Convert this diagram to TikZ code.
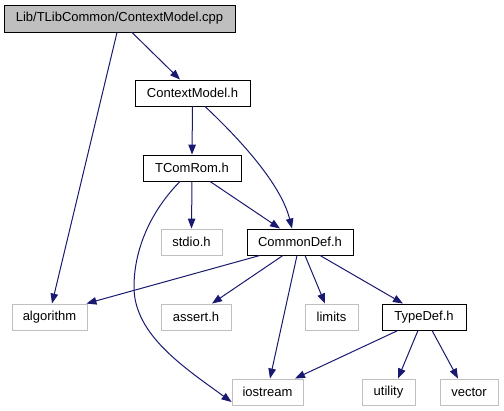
\documentclass[tikz,border=0pt]{standalone}
\usepackage{fontspec}
\setmainfont{Liberation Sans}
\usetikzlibrary{arrows.meta}
\definecolor{edgeblue}{HTML}{191970}
\definecolor{boxgray}{HTML}{BFBFBF}
\tikzset{
  fbox/.style={draw=black, line width=0.9pt, fill=white, minimum height=26pt, inner sep=0pt, font=\fontsize{13}{15}\selectfont},
  gbox/.style={draw=boxgray, line width=0.9pt, fill=white, minimum height=26pt, inner sep=0pt, font=\fontsize{13}{15}\selectfont},
  mainbox/.style={draw=black, line width=0.9pt, fill=boxgray, minimum height=27pt, inner sep=0pt, font=\fontsize{13}{15}\selectfont},
  dep/.style={draw=edgeblue, line width=1pt, -{Triangle[length=10pt,width=7.5pt,fill=edgeblue]}}
}
\begin{document}
\begin{tikzpicture}[x=1pt,y=-1pt]
\useasboundingbox (0,0) rectangle (504,411);
\node[mainbox, minimum width=231pt] (cpp) at (119.5,18.5) {Lib/TLibCommon/ContextModel.cpp};
\node[fbox, minimum width=115pt] (cmh) at (192.5,93) {ContextModel.h};
\node[fbox, minimum width=98pt] (rom) at (192,168) {TComRom.h};
\node[gbox, minimum width=61pt] (stdio) at (191.5,242) {stdio.h};
\node[fbox, minimum width=106pt] (cdef) at (300,242) {CommonDef.h};
\node[gbox, minimum width=75pt] (algo) at (49.5,317) {algorithm};
\node[gbox, minimum width=70pt] (assert) at (196,317) {assert.h};
\node[gbox, minimum width=53pt] (limits) at (331.5,317) {limits};
\node[fbox, minimum width=84pt] (tdef) at (424,317) {TypeDef.h};
\node[gbox, minimum width=71pt] (ios) at (267.5,392) {iostream};
\node[gbox, minimum width=53pt] (util) at (388.5,392) {utility};
\node[gbox, minimum width=58pt] (vec) at (469,392) {vector};

\draw[dep] ([xshift=-2.5pt]cpp.south) -- ([xshift=2.5pt]algo.north);
\draw[dep] ([xshift=12.5pt]cpp.south) -- ([xshift=-12.5pt]cmh.north);
\draw[dep] (cmh.south) -- (rom.north);
\draw[dep] ([xshift=12.5pt]cmh.south) .. controls (230,130) and (280,180) .. ([xshift=-8pt]cdef.north);
\draw[dep] (rom.south) -- (stdio.north);
\draw[dep] ([xshift=18pt]rom.south) -- ([xshift=-20pt]cdef.north);
\draw[dep] ([xshift=-12pt]rom.south) .. controls (150,212) and (134,250) .. (134,287) .. controls (134,335) and (185,368) .. ([yshift=-10pt]ios.west);
\draw[dep] ([xshift=-40pt]cdef.south) -- ([xshift=-1pt]algo.north east);
\draw[dep] ([xshift=-17pt]cdef.south) -- ([xshift=16pt]assert.north);
\draw[dep] ([xshift=-3pt]cdef.south) -- ([xshift=2.5pt]ios.north);
\draw[dep] ([xshift=5pt]cdef.south) -- ([xshift=-6.5pt]limits.north);
\draw[dep] ([xshift=20pt]cdef.south) -- ([xshift=-21pt]tdef.north);
\draw[dep] ([xshift=-26pt]tdef.south) -- ([xshift=27.5pt]ios.north);
\draw[dep] ([xshift=-6pt]tdef.south) -- ([xshift=9.5pt]util.north);
\draw[dep] ([xshift=8pt]tdef.south) -- ([xshift=-11pt]vec.north);
\end{tikzpicture}
\end{document}
